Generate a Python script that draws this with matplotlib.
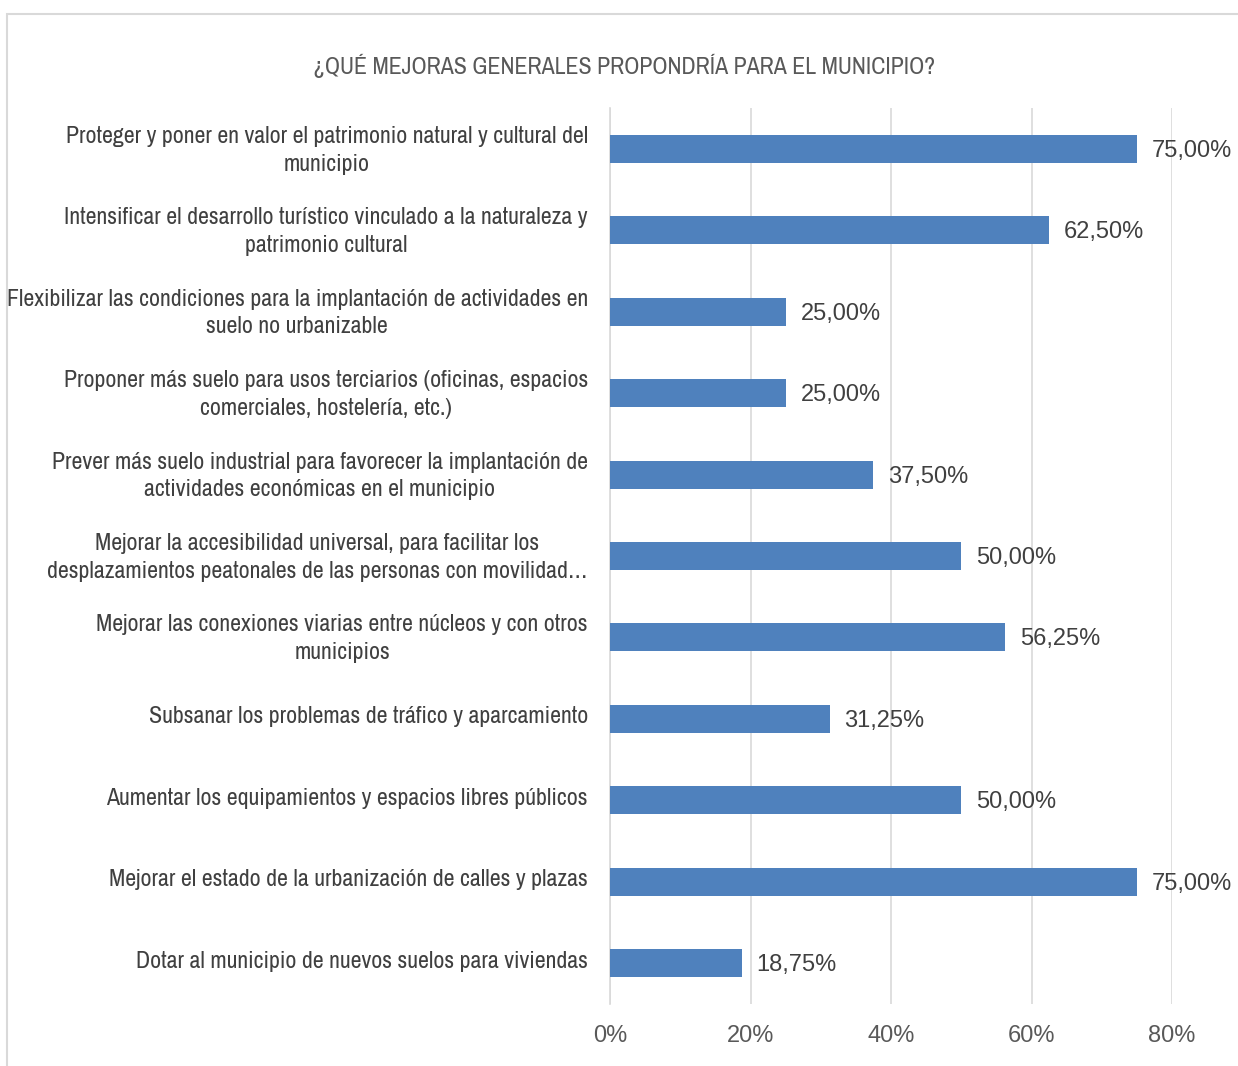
import matplotlib
matplotlib.use("Agg")
import matplotlib.pyplot as plt
from matplotlib.patches import Rectangle
from matplotlib.transforms import ScaledTranslation

title = "¿QUÉ MEJORAS GENERALES PROPONDRÍA PARA EL MUNICIPIO?"
categories = [
    "Proteger y poner en valor el patrimonio natural y cultural del\nmunicipio",
    "Intensificar el desarrollo turístico vinculado a la naturaleza y\npatrimonio cultural",
    "Flexibilizar las condiciones para la implantación de actividades en\nsuelo no urbanizable",
    "Proponer más suelo para usos terciarios (oficinas, espacios\ncomerciales, hostelería, etc.)",
    "Prever más suelo industrial para favorecer la implantación de\nactividades económicas en el municipio",
    "Mejorar la accesibilidad universal, para facilitar los\ndesplazamientos peatonales de las personas con movilidad…",
    "Mejorar las conexiones viarias entre núcleos y con otros\nmunicipios",
    "Subsanar los problemas de tráfico y aparcamiento",
    "Aumentar los equipamientos y espacios libres públicos",
    "Mejorar el estado de la urbanización de calles y plazas",
    "Dotar al municipio de nuevos suelos para viviendas",
]
values = [0.75, 0.625, 0.25, 0.25, 0.375, 0.50, 0.5625, 0.3125, 0.50, 0.75, 0.1875]
value_labels = ["75,00%", "62,50%", "25,00%", "25,00%", "37,50%", "50,00%",
                "56,25%", "31,25%", "50,00%", "75,00%", "18,75%"]
xticks = [0.0, 0.2, 0.4, 0.6, 0.8]
xtick_labels = ["0%", "20%", "40%", "60%", "80%"]

NARROW = ["Archivo Narrow", "Liberation Sans", "DejaVu Sans"]
REG = ["Liberation Sans", "DejaVu Sans"]

W, H = 1238, 1066
fig = plt.figure(figsize=(W / 100, H / 100), dpi=100)
fig.patch.set_facecolor("white")

# outer chart border (extends past right and bottom edges)
fig.patches.append(Rectangle((7 / W, -0.05), 1.2, 1 - 14 / H + 0.05,
                             transform=fig.transFigure, fill=False,
                             edgecolor="#D9D9D9", linewidth=1.5))

ax = fig.add_axes([610 / W, 1 - 1004 / H, (1172 - 610) / W, (1004 - 108) / H])
y = list(range(len(categories)))
ax.barh(y, values, height=0.344, color="#4F81BD", zorder=3)
ax.set_ylim(len(categories) - 0.5, -0.5)
ax.set_xlim(0, 0.8)

for s in ["top", "right", "bottom"]:
    ax.spines[s].set_visible(False)
ax.spines["left"].set_color("#D9D9D9")
ax.spines["left"].set_linewidth(1.2)
ax.set_xticks(xticks)
ax.set_xticklabels(xtick_labels, fontsize=17, color="#595959", family=REG)
ax.tick_params(axis="x", length=0, pad=15)
ax.set_yticks(y)
ax.set_yticklabels(categories, fontsize=17.2, color="#404040", family=NARROW,
                   multialignment="center", linespacing=1.4)
ax.tick_params(axis="y", length=0, pad=16)
shift = ScaledTranslation(0, 4 / 100, fig.dpi_scale_trans)
for lbl in ax.get_yticklabels():
    lbl.set_transform(lbl.get_transform() + shift)
ax.grid(axis="x", color="#D9D9D9", linewidth=1.2, zorder=0)
ax.set_axisbelow(True)

for yi, v, lab in zip(y, values, value_labels):
    ax.annotate(lab, (v, yi), xytext=(15, -2), textcoords="offset pixels",
                ha="left", va="center", fontsize=17, color="#404040",
                family=REG, annotation_clip=False)

fig.text(624 / W, 1 - 66 / H, title, ha="center", va="center", fontsize=17.2,
         color="#595959", family=NARROW)

fig.savefig("out.png", dpi=100)
